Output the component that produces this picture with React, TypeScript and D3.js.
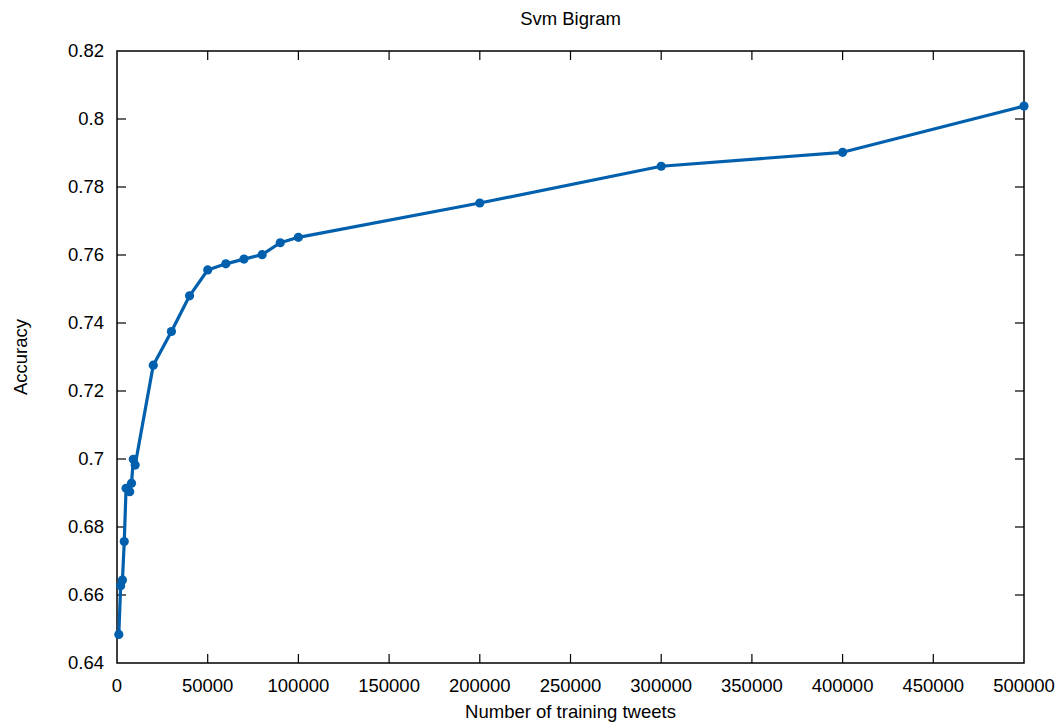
import { useEffect, useRef } from 'react';
import * as d3 from 'd3';

const trainingSizes = [1000, 2000, 3000, 4000, 5000, 7000, 8000, 9000, 10000, 20000, 30000, 40000, 50000, 60000, 70000, 80000, 90000, 100000, 200000, 300000, 400000, 500000];
const accuracy = [0.6484, 0.6627, 0.6644, 0.6757, 0.6914, 0.6904, 0.6929, 0.6999, 0.6982, 0.7276, 0.7375, 0.748, 0.7556, 0.7574, 0.7588, 0.7601, 0.7636, 0.7652, 0.7753, 0.7861, 0.7902, 0.8038];
const xTicks = [0, 50000, 100000, 150000, 200000, 250000, 300000, 350000, 400000, 450000, 500000];
const yTicks = [0.64, 0.66, 0.68, 0.7, 0.72, 0.74, 0.76, 0.78, 0.8, 0.82];

const lineColor = '#0060ad';
const font = '"Liberation Sans", Arial, Helvetica, sans-serif';
const fontSize = 18.5;

export default function App() {
  const svgRef = useRef<SVGSVGElement>(null);

  useEffect(() => {
    if (!svgRef.current) return;
    const width = 1061;
    const height = 723;
    const margin = { top: 51, right: 37, bottom: 60, left: 117 };
    const innerWidth = width - margin.left - margin.right;
    const innerHeight = height - margin.top - margin.bottom;
    const tick = 9;

    const svg = d3.select(svgRef.current);
    svg.selectAll('*').remove();
    svg.attr('width', width).attr('height', height);

    const x = d3.scaleLinear().domain([0, 500000]).range([0, innerWidth]);
    const y = d3.scaleLinear().domain([0.64, 0.82]).range([innerHeight, 0]);

    const g = svg.append('g').attr('transform', `translate(${margin.left},${margin.top})`);

    // Tick marks (inward, mirrored on all four sides)
    const ticks = g.append('g').attr('stroke', '#000').attr('stroke-width', 1.2);
    xTicks.slice(1, -1).forEach(t => {
      ticks.append('line').attr('x1', x(t)).attr('x2', x(t)).attr('y1', innerHeight).attr('y2', innerHeight - tick);
      ticks.append('line').attr('x1', x(t)).attr('x2', x(t)).attr('y1', 0).attr('y2', tick);
    });
    yTicks.slice(1, -1).forEach(t => {
      ticks.append('line').attr('x1', 0).attr('x2', tick).attr('y1', y(t)).attr('y2', y(t));
      ticks.append('line').attr('x1', innerWidth).attr('x2', innerWidth - tick).attr('y1', y(t)).attr('y2', y(t));
    });

    // Frame
    g.append('rect')
      .attr('width', innerWidth)
      .attr('height', innerHeight)
      .attr('fill', 'none')
      .attr('stroke', '#000')
      .attr('stroke-width', 1.5);

    // Tick labels
    g.selectAll('.xlab')
      .data(xTicks)
      .join('text')
      .attr('x', d => x(d))
      .attr('y', innerHeight + 29)
      .attr('text-anchor', 'middle')
      .attr('font-family', font)
      .attr('font-size', fontSize)
      .text(d => String(d));

    g.selectAll('.ylab')
      .data(yTicks)
      .join('text')
      .attr('x', -13)
      .attr('y', d => y(d))
      .attr('dy', '0.35em')
      .attr('text-anchor', 'end')
      .attr('font-family', font)
      .attr('font-size', fontSize)
      .text(d => String(+d.toFixed(2)));

    // Line + points
    const data = trainingSizes.map((n, i) => [n, accuracy[i]] as [number, number]);
    g.append('path')
      .datum(data)
      .attr('fill', 'none')
      .attr('stroke', lineColor)
      .attr('stroke-width', 3.2)
      .attr('stroke-linejoin', 'round')
      .attr('d', d3.line<[number, number]>().x(d => x(d[0])).y(d => y(d[1])));

    g.selectAll('.pt')
      .data(data)
      .join('circle')
      .attr('cx', d => x(d[0]))
      .attr('cy', d => y(d[1]))
      .attr('r', 4.6)
      .attr('fill', lineColor);

    // Titles
    svg.append('text')
      .attr('x', margin.left + innerWidth / 2)
      .attr('y', 25)
      .attr('text-anchor', 'middle')
      .attr('font-family', font)
      .attr('font-size', fontSize)
      .text('Svm Bigram');

    svg.append('text')
      .attr('x', margin.left + innerWidth / 2)
      .attr('y', 718)
      .attr('text-anchor', 'middle')
      .attr('font-family', font)
      .attr('font-size', fontSize)
      .text('Number of training tweets');

    svg.append('text')
      .attr('transform', `translate(27,${margin.top + innerHeight / 2}) rotate(-90)`)
      .attr('text-anchor', 'middle')
      .attr('font-family', font)
      .attr('font-size', fontSize)
      .text('Accuracy');
  }, []);

  return (
    <div style={{ position: 'absolute', left: 0, top: 0, background: '#fff' }}>
      <svg ref={svgRef} style={{ display: 'block' }} />
    </div>
  );
}
